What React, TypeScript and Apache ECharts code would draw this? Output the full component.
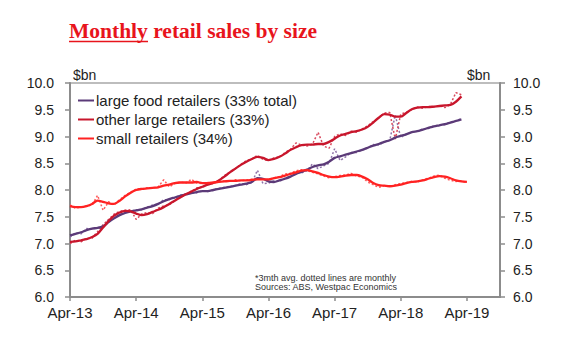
import React, { useEffect, useRef } from "react";
import * as echarts from "echarts";

// month index 0 = Apr-13
const tickLabels = ["Apr-13", "Apr-14", "Apr-15", "Apr-16", "Apr-17", "Apr-18", "Apr-19"];
const tickMonths = [0, 12, 24, 36, 48, 60, 72];

const legendNames = [
  "large food retailers (33% total)",
  "other large retailers (33%)",
  "small retailers (34%)",
];

// 3mth avg (solid)
const largeFoodAvg = [
  7.15, 7.18, 7.21, 7.25, 7.28, 7.29, 7.32, 7.40, 7.47, 7.53, 7.57, 7.60,
  7.62, 7.64, 7.67, 7.70, 7.74, 7.79, 7.83, 7.86, 7.89, 7.92, 7.94, 7.96,
  7.98, 7.98, 8.00, 8.02, 8.04, 8.06, 8.08, 8.10, 8.12, 8.15, 8.22, 8.21,
  8.16, 8.15, 8.18, 8.21, 8.25, 8.30, 8.34, 8.38, 8.43, 8.46, 8.48, 8.53,
  8.60, 8.63, 8.66, 8.69, 8.72, 8.75, 8.79, 8.83, 8.86, 8.90, 8.93, 8.98,
  9.01, 9.04, 9.08, 9.10, 9.13, 9.16, 9.19, 9.21, 9.23, 9.26, 9.29, 9.32,
];
const otherLargeAvg = [
  7.03, 7.04, 7.06, 7.08, 7.12, 7.18, 7.30, 7.42, 7.52, 7.58, 7.61, 7.60,
  7.56, 7.53, 7.55, 7.59, 7.63, 7.68, 7.74, 7.80, 7.86, 7.92, 7.97, 8.02,
  8.06, 8.10, 8.13, 8.18, 8.25, 8.33, 8.40, 8.47, 8.53, 8.58, 8.62, 8.60,
  8.56, 8.58, 8.62, 8.68, 8.75, 8.80, 8.84, 8.85, 8.85, 8.86, 8.86, 8.90,
  8.96, 9.02, 9.05, 9.08, 9.10, 9.13, 9.18, 9.26, 9.35, 9.42, 9.41, 9.37,
  9.37, 9.44, 9.51, 9.54, 9.55, 9.55, 9.56, 9.57, 9.58, 9.59, 9.65, 9.75,
];
const smallAvg = [
  7.70, 7.68, 7.68, 7.70, 7.74, 7.80, 7.78, 7.75, 7.74, 7.80, 7.88, 7.95,
  8.00, 8.02, 8.03, 8.04, 8.05, 8.08, 8.10, 8.13, 8.14, 8.14, 8.14, 8.15,
  8.13, 8.13, 8.14, 8.15, 8.16, 8.17, 8.17, 8.18, 8.18, 8.19, 8.20, 8.20,
  8.20, 8.22, 8.24, 8.27, 8.30, 8.33, 8.36, 8.37, 8.35, 8.32, 8.28, 8.25,
  8.24, 8.25, 8.27, 8.28, 8.28, 8.25, 8.20, 8.13, 8.09, 8.08, 8.07, 8.08,
  8.10, 8.13, 8.15, 8.16, 8.18, 8.21, 8.24, 8.26, 8.25, 8.22, 8.18, 8.16,
  8.15,
];

// monthly (dotted)
const largeFoodMonthly = [
  7.12, 7.20, 7.18, 7.28, 7.27, 7.30, 7.30, 7.45, 7.48, 7.55, 7.58, 7.60,
  7.63, 7.63, 7.68, 7.72, 7.73, 7.82, 7.82, 7.85, 7.90, 7.92, 7.95, 7.95,
  7.99, 7.97, 8.01, 8.03, 8.05, 8.07, 8.08, 8.12, 8.10, 8.14, 8.37, 8.12,
  8.13, 8.17, 8.16, 8.22, 8.25, 8.33, 8.32, 8.36, 8.49, 8.40, 8.45, 8.50,
  8.77, 8.55, 8.62, 8.70, 8.70, 8.75, 8.78, 8.85, 8.84, 8.90, 8.93, 9.40,
  8.98, 9.05, 9.08, 9.10, 9.14, 9.15, 9.20, 9.21, 9.22, 9.27, 9.30, 9.33,
];
const otherLargeMonthly = [
  7.00, 7.06, 7.03, 7.10, 7.10, 7.22, 7.35, 7.45, 7.55, 7.60, 7.62, 7.63,
  7.45, 7.55, 7.58, 7.56, 7.66, 7.70, 7.72, 7.80, 7.88, 7.90, 7.97, 8.04,
  8.05, 8.12, 8.12, 8.18, 8.27, 8.33, 8.40, 8.48, 8.55, 8.58, 8.65, 8.57,
  8.55, 8.60, 8.62, 8.70, 8.76, 8.88, 8.84, 8.82, 8.86, 9.08, 8.82, 8.78,
  9.00, 9.05, 9.02, 9.10, 9.08, 9.14, 9.20, 9.28, 9.35, 9.44, 9.45, 8.95,
  9.42, 9.45, 9.50, 9.55, 9.53, 9.56, 9.55, 9.58, 9.54, 9.60, 9.82, 9.78,
];
const smallMonthly = [
  7.72, 7.66, 7.68, 7.70, 7.72, 7.90, 7.62, 7.78, 7.72, 7.82, 7.90, 7.96,
  8.02, 8.02, 8.04, 8.03, 8.06, 8.19, 8.06, 8.12, 8.15, 8.13, 8.20, 8.13,
  8.12, 8.14, 8.13, 8.16, 8.17, 8.16, 8.19, 8.17, 8.19, 8.20, 8.20, 8.21,
  8.19, 8.23, 8.25, 8.30, 8.31, 8.36, 8.38, 8.36, 8.33, 8.30, 8.26, 8.23,
  8.25, 8.27, 8.28, 8.31, 8.26, 8.24, 8.15, 8.10, 8.05, 8.08, 8.06, 8.10,
  8.12, 8.14, 8.16, 8.15, 8.19, 8.22, 8.26, 8.28, 8.22, 8.18, 8.16, 8.17,
  8.14,
];

const colors = ["#5b3a78", "#c8162c", "#ff2222"];
const dottedColors = ["#8f72a8", "#d8485c", "#ff5a5a"];

const toPairs = (arr: number[]) => arr.map((v, i) => [i, v]);

export default function App() {
  const ref = useRef<HTMLDivElement>(null);
  useEffect(() => {
    if (!ref.current) return;
    const chart = echarts.init(ref.current, undefined, { renderer: "svg" });
    const font = "Arial, 'Liberation Sans', sans-serif";
    const axisLine = { show: true, lineStyle: { color: "#8c8c8c", width: 2 } };
    const yAxisBase = {
      type: "value" as const,
      min: 6,
      max: 10,
      interval: 0.5,
      splitLine: { show: false },
      axisLine,
      axisTick: { show: true, length: 5, lineStyle: { color: "#8c8c8c", width: 1.5 } },
      axisLabel: {
        formatter: (v: number) => v.toFixed(1),
        fontSize: 14,
        color: "#222",
        fontFamily: font,
      },
    };
    const dotted = (name: string, arr: number[], color: string) => ({
      name,
      type: "line",
      data: toPairs(arr),
      showSymbol: false,
      lineStyle: { color, width: 1.5, type: [2, 2] },
      itemStyle: { color },
      z: 2,
    });
    const solid = (name: string, arr: number[], color: string) => ({
      name,
      type: "line",
      data: toPairs(arr),
      showSymbol: false,
      smooth: 0.3,
      lineStyle: { color, width: 2.3 },
      itemStyle: { color },
      z: 3,
    });
    chart.setOption({
      animation: false,
      grid: {
        left: 70,
        right: 80,
        top: 83,
        bottom: 55,
        show: true,
        borderColor: "#a8a8a8",
        borderWidth: 1.5,
      },
      legend: {
        data: legendNames,
        orient: "vertical",
        left: 73,
        top: 88,
        icon: "rect",
        itemWidth: 16,
        itemHeight: 2,
        itemGap: 4,
        textStyle: { fontSize: 15, color: "#222", fontFamily: font, padding: [0, 0, 0, -3] },
      },
      xAxis: {
        type: "value",
        min: 0,
        max: 78,
        interval: 12,
        splitLine: { show: false },
        axisLine,
        axisTick: {
          show: true,
          length: 4,
          customValues: tickMonths,
          lineStyle: { color: "#8c8c8c", width: 1.5 },
        },
        axisLabel: {
          customValues: tickMonths,
          formatter: (v: number) => tickLabels[tickMonths.indexOf(v)] ?? "",
          fontSize: 15,
          color: "#222",
          fontFamily: font,
          margin: 8,
        },
      },
      yAxis: [
        { ...yAxisBase, position: "left", axisLabel: { ...yAxisBase.axisLabel, margin: 16 } },
        { ...yAxisBase, position: "right", axisLabel: { ...yAxisBase.axisLabel, margin: 13 } },
      ],
      series: [
        dotted("large food monthly", largeFoodMonthly, dottedColors[0]),
        dotted("other large monthly", otherLargeMonthly, dottedColors[1]),
        dotted("small monthly", smallMonthly, dottedColors[2]),
        solid(legendNames[0], largeFoodAvg, colors[0]),
        solid(legendNames[1], otherLargeAvg, colors[1]),
        solid(legendNames[2], smallAvg, colors[2]),
      ],
      graphic: [
        {
          type: "text",
          left: 69,
          top: 20,
          style: {
            text: "Monthly retail sales by size",
            font: "bold 21.5px 'Liberation Serif', 'Times New Roman', serif",
            fill: "#e8141c",
          },
        },
        {
          type: "line",
          shape: { x1: 69, y1: 41.5, x2: 148, y2: 41.5 },
          style: { stroke: "#e8141c", lineWidth: 1.6 },
        },
        {
          type: "text",
          left: 73,
          top: 68,
          style: { text: "$bn", font: "14px Arial, 'Liberation Sans', sans-serif", fill: "#222" },
        },
        {
          type: "text",
          left: 467,
          top: 68,
          style: { text: "$bn", font: "14px Arial, 'Liberation Sans', sans-serif", fill: "#222" },
        },
        {
          type: "text",
          left: 255,
          top: 273,
          style: {
            text: "*3mth avg. dotted lines are monthly\nSources: ABS, Westpac Economics",
            font: "9px Arial, 'Liberation Sans', sans-serif",
            fill: "#333",
            lineHeight: 9.5,
          },
        },
      ],
    });
    return () => chart.dispose();
  }, []);
  return (
    <div
      ref={ref}
      style={{ position: "absolute", left: 0, top: 0, width: 580, height: 352, background: "#fff" }}
    />
  );
}
